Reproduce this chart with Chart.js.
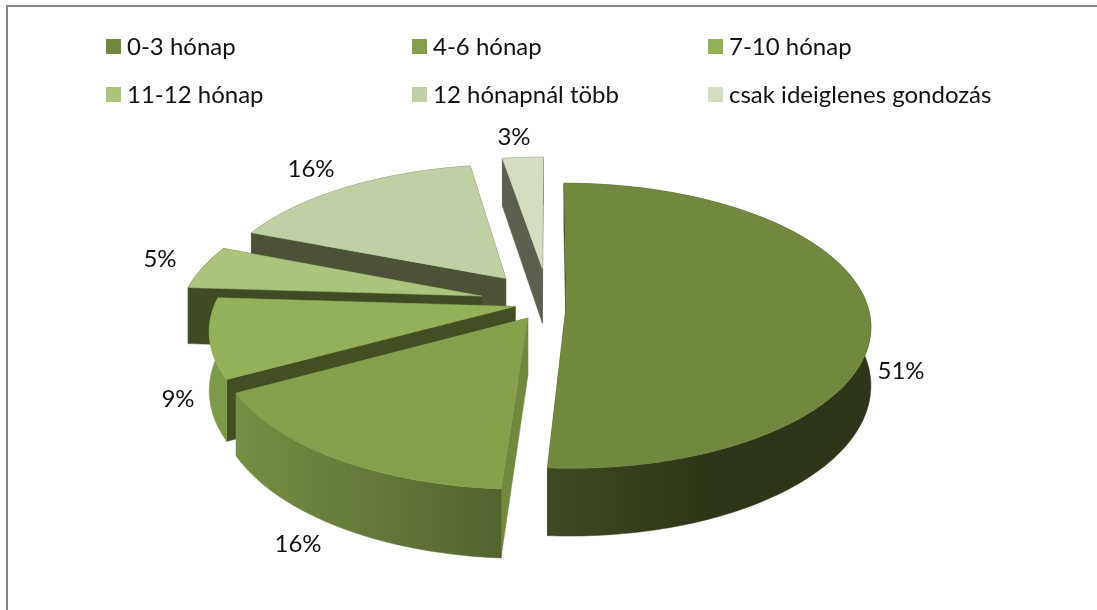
<!DOCTYPE html>
<html><head><meta charset="utf-8">
<style>html,body{margin:0;padding:0;background:#fff}canvas{display:block}</style>
<script src="https://cdn.jsdelivr.net/npm/chart.js@4"></script>
</head><body><canvas id="c" width="1097" height="610"></canvas>
<script>
const categories = ['0-3 hónap','4-6 hónap','7-10 hónap','11-12 hónap','12 hónapnál több','csak ideiglenes gondozás'];
const shares = [51,16,9,5,16.4,2.6];
const explode = [18,38,34,69,70,78];
const topColors = ['#71893F','#84A04B','#93B159','#AAC47C','#BFD0A3','#D3DDC0'];
const cutColors = ['#3F4A20','#71893F','#434F22','#3F4B22','#4C5238','#5A5F4E'];
const rimStops = [['#404A22','#2D3618','#2D3618'],['#758F45','#64793A','#53632E'],['#7D9A48','#7D9A48','#7D9A48'],['#3F4B22','#3F4B22','#3F4B22'],['#4C5238','#4C5238','#4C5238'],['#5A5F4E','#5A5F4E','#5A5F4E']];
const paintOrder = [5,4,3,2,1,0];
const FONT = '24px Lato';
const TILT = 0.463, PERSP = 0.158, DEPTH = 57;

const pie3d = {
  id:'pie3d',
  beforeDatasetsDraw(chart){
    const ctx = chart.ctx, arcs = chart.getDatasetMeta(0).data;
    paintOrder.forEach(i=>{
      const el = arcs[i], R = el.outerRadius;
      const mid = (el.startAngle+el.endAngle)/2, off = el.options.offset;
      const pt = (th,r,down)=>{
        const U = Math.cos(mid)*off + r*Math.cos(th), V = Math.sin(mid)*off + r*Math.sin(th);
        const p = 1/(1-PERSP*V/R);
        return {x:el.x+U*p, y:el.y+V*TILT*p+(down?DEPTH*p:0)};
      };
      const steps = Math.max(8,Math.ceil((el.endAngle-el.startAngle)*60));
      const ang = k=>el.startAngle+(el.endAngle-el.startAngle)*k/steps;
      const poly = (pts,fill)=>{ctx.beginPath();pts.forEach((q,n)=>n?ctx.lineTo(q.x,q.y):ctx.moveTo(q.x,q.y));ctx.closePath();ctx.fillStyle=fill;ctx.strokeStyle=fill;ctx.lineWidth=.5;ctx.fill();ctx.stroke();};
      const rimTop=[],rimBottom=[];
      for(let k=0;k<=steps;k++){rimTop.push(pt(ang(k),R,false));rimBottom.unshift(pt(ang(k),R,true));}
      const xs=rimTop.map(q=>q.x);
      const x0=Math.min(...xs),x1=Math.max(...xs);
      const g=ctx.createLinearGradient(x0,0,x1,0);
      rimStops[i].forEach((c,n)=>g.addColorStop(n/2,c));
      const cuts=[el.startAngle,el.endAngle].map(th=>{
        const a=pt(th,0,false),b=pt(th,R,false),c=pt(th,R,true),d=pt(th,0,true);
        return {pts:[a,b,c,d],key:(a.y+b.y+c.y+d.y)/4};
      }).sort((p,q)=>p.key-q.key);
      cuts.forEach(f=>poly(f.pts,cutColors[i]));
      poly(rimTop.concat(rimBottom),g);
      poly([pt(0,0,false)].concat(rimTop),el.options.backgroundColor);
    });
    return false;
  },
  afterDraw(chart){
    const ctx=chart.ctx;
    ctx.save();
    ctx.fillStyle='#868686';
    ctx.fillRect(6,5,1091,2);ctx.fillRect(6,5,2,605);
    const cols=[106,412,708],rows=[39,87];
    ctx.font=FONT;ctx.textBaseline='middle';ctx.textAlign='left';
    categories.forEach((t,i)=>{
      const x=cols[i%3],y=rows[Math.floor(i/3)];
      ctx.fillStyle=topColors[i];ctx.fillRect(x,y,15,15);
      ctx.fillStyle='#111';ctx.fillText(t,x+21,y+8);
    });
    const pos=[[901,371],[298,544],[178,399],[160,259],[311,169],[514,137]];
    ctx.textAlign='center';
    shares.forEach((v,i)=>{ctx.fillText(Math.round(v)+'%',pos[i][0],pos[i][1]);});
    ctx.restore();
  }
};
new Chart(document.getElementById('c'),{
  type:'pie',
  data:{labels:categories,datasets:[{data:shares,backgroundColor:topColors,offset:explode,borderWidth:0}]},
  options:{responsive:false,animation:false,radius:300,layout:{padding:{bottom:4}},
    plugins:{legend:{display:false},tooltip:{enabled:false}}},
  plugins:[pie3d]
});
</script></body></html>
